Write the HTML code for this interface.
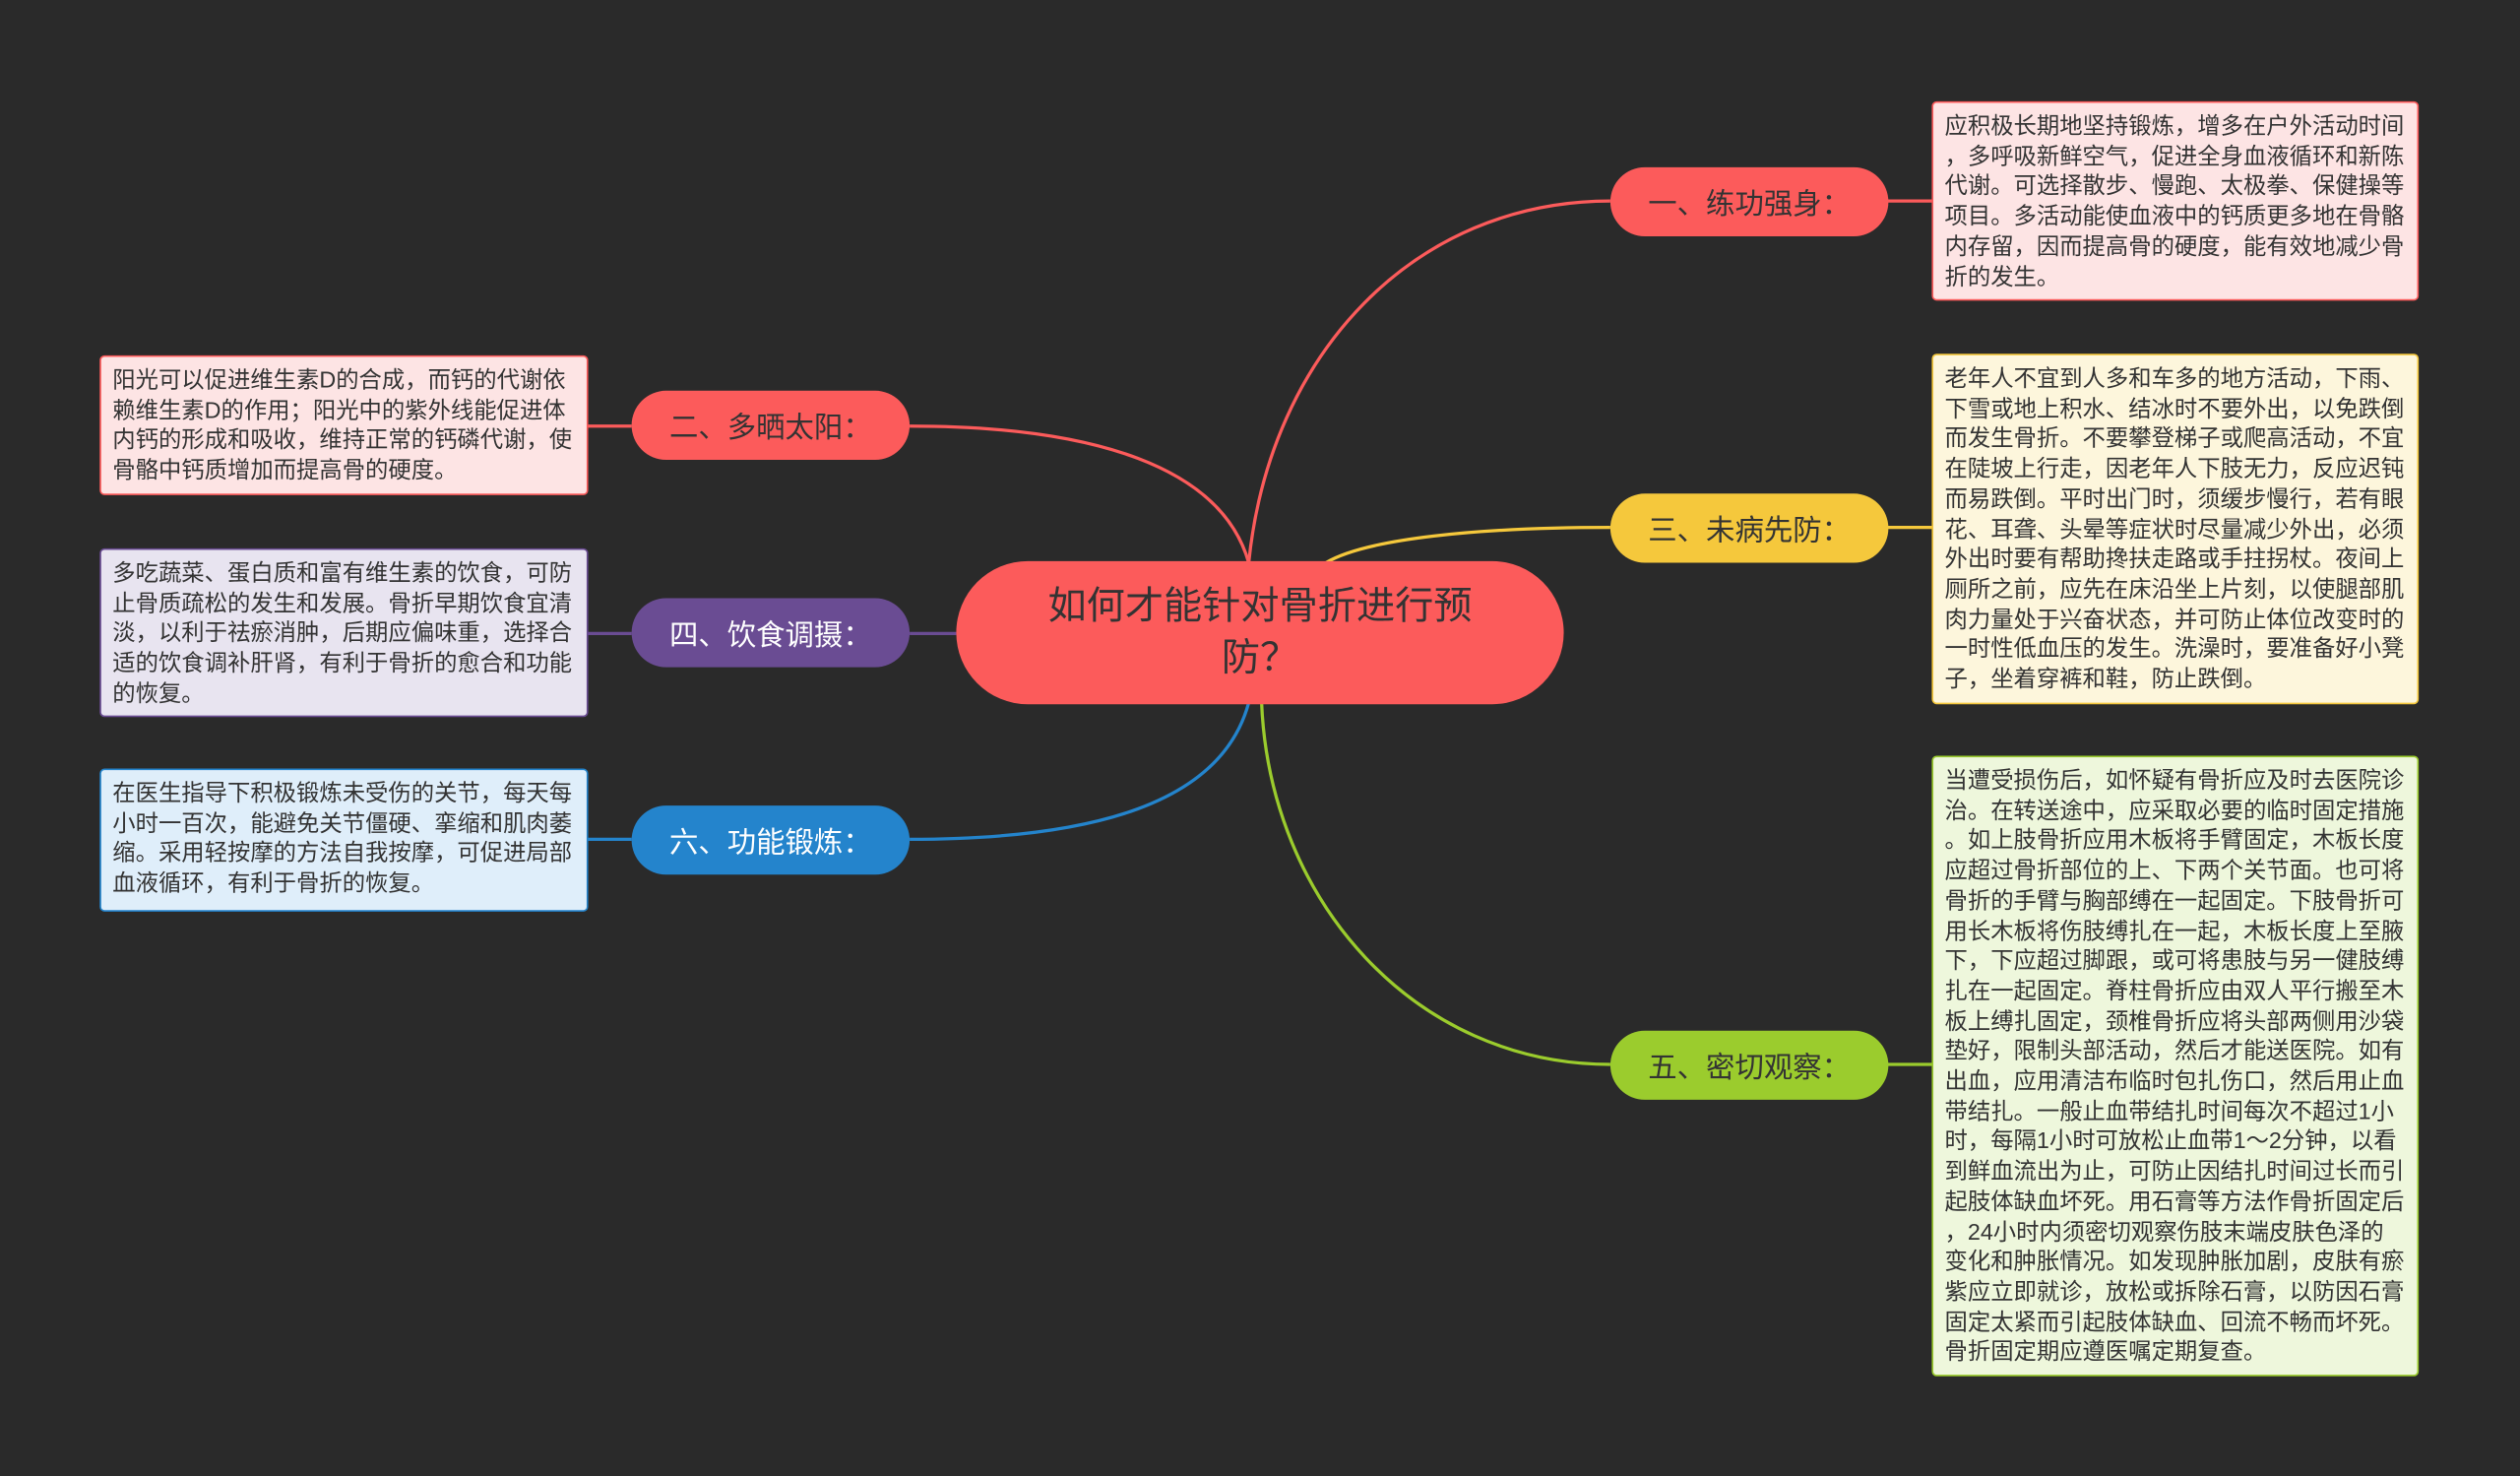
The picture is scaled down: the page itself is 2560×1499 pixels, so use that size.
<!DOCTYPE html>
<html><head><meta charset="utf-8"><style>
html,body{margin:0;padding:0;background:#2a2a2a;width:2560px;height:1499px;overflow:hidden}
#s{position:absolute;left:0;top:0;width:1568px;height:918px;transform:scale(1.63265,1.63290);transform-origin:0 0;font-family:"Liberation Sans","Noto Sans CJK SC",sans-serif}
.n{position:absolute;border-radius:22px;font-size:18px;display:flex;align-items:center;justify-content:center;height:43px;width:173px;box-sizing:border-box}
.b{position:absolute;box-sizing:border-box;border:1px solid;border-radius:3px;padding:6px 0 0 7px;font-size:14.3px;line-height:18.7px;color:#333;white-space:nowrap}
</style></head><body><div id="s">
<svg width="1568" height="918" style="position:absolute;left:0;top:0" fill="none" stroke-width="2">
<path d="M777 350 C790 220 880 125 1002 125" stroke="#fc5b5b"/>
<path d="M825 350 C850 335 920 328 1002 328" stroke="#f5c83c"/>
<path d="M785 437 C790 560 880 662 1002 662" stroke="#9bcc2d"/>
<path d="M777 350 C760 290 680 265 566 265" stroke="#fc5b5b"/>
<path d="M595 394 L566 394" stroke="#6a4c93"/>
<path d="M777 437 C760 500 680 522 566 522" stroke="#2484cc"/>
<path d="M1174 125 H1202" stroke="#fc5b5b"/>
<path d="M1174 328 H1202" stroke="#f5c83c"/>
<path d="M1174 662 H1202" stroke="#9bcc2d"/>
<path d="M366 265 H393" stroke="#fc5b5b"/>
<path d="M366 394 H393" stroke="#6a4c93"/>
<path d="M366 522 H393" stroke="#2484cc"/>
</svg>
<div style="position:absolute;left:595px;top:349px;width:378px;height:89px;border-radius:45px;background:#fc5b5b;color:#333;font-size:24px;line-height:32px;text-align:center;display:flex;align-items:center;justify-content:center">如何才能针对骨折进行预<br>防？</div>
<div class="n" style="left:1002px;top:104px;background:#fc5b5b;color:#333">一、练功强身：</div>
<div class="n" style="left:1002px;top:307px;background:#f5c83c;color:#333">三、未病先防：</div>
<div class="n" style="left:1002px;top:641px;background:#9bcc2d;color:#333">五、密切观察：</div>
<div class="n" style="left:393px;top:243px;background:#fc5b5b;color:#333">二、多晒太阳：</div>
<div class="n" style="left:393px;top:372px;background:#6a4c93;color:#fff">四、饮食调摄：</div>
<div class="n" style="left:393px;top:501px;background:#2484cc;color:#fff">六、功能锻炼：</div>
<div class="b" style="left:1202px;top:63px;width:303px;height:124px;background:#fde4e4;border-color:#fc5b5b">应积极长期地坚持锻炼，增多在户外活动时间<br>，多呼吸新鲜空气，促进全身血液循环和新陈<br>代谢。可选择散步、慢跑、太极拳、保健操等<br>项目。多活动能使血液中的钙质更多地在骨骼<br>内存留，因而提高骨的硬度，能有效地减少骨<br>折的发生。</div>
<div class="b" style="left:1202px;top:220px;width:303px;height:218px;background:#fdf6dc;border-color:#f5c83c">老年人不宜到人多和车多的地方活动，下雨、<br>下雪或地上积水、结冰时不要外出，以免跌倒<br>而发生骨折。不要攀登梯子或爬高活动，不宜<br>在陡坡上行走，因老年人下肢无力，反应迟钝<br>而易跌倒。平时出门时，须缓步慢行，若有眼<br>花、耳聋、头晕等症状时尽量减少外出，必须<br>外出时要有帮助搀扶走路或手拄拐杖。夜间上<br>厕所之前，应先在床沿坐上片刻，以使腿部肌<br>肉力量处于兴奋状态，并可防止体位改变时的<br>一时性低血压的发生。洗澡时，要准备好小凳<br>子，坐着穿裤和鞋，防止跌倒。</div>
<div class="b" style="left:1202px;top:470px;width:303px;height:386px;background:#eef7dc;border-color:#9bcc2d">当遭受损伤后，如怀疑有骨折应及时去医院诊<br>治。在转送途中，应采取必要的临时固定措施<br>。如上肢骨折应用木板将手臂固定，木板长度<br>应超过骨折部位的上、下两个关节面。也可将<br>骨折的手臂与胸部缚在一起固定。下肢骨折可<br>用长木板将伤肢缚扎在一起，木板长度上至腋<br>下，下应超过脚跟，或可将患肢与另一健肢缚<br>扎在一起固定。脊柱骨折应由双人平行搬至木<br>板上缚扎固定，颈椎骨折应将头部两侧用沙袋<br>垫好，限制头部活动，然后才能送医院。如有<br>出血，应用清洁布临时包扎伤口，然后用止血<br>带结扎。一般止血带结扎时间每次不超过1小<br>时，每隔1小时可放松止血带1～2分钟，以看<br>到鲜血流出为止，可防止因结扎时间过长而引<br>起肢体缺血坏死。用石膏等方法作骨折固定后<br>，24小时内须密切观察伤肢末端皮肤色泽的<br>变化和肿胀情况。如发现肿胀加剧，皮肤有瘀<br>紫应立即就诊，放松或拆除石膏，以防因石膏<br>固定太紧而引起肢体缺血、回流不畅而坏死。<br>骨折固定期应遵医嘱定期复查。</div>
<div class="b" style="left:62px;top:221px;width:304px;height:87px;background:#fde4e4;border-color:#fc5b5b">阳光可以促进维生素D的合成，而钙的代谢依<br>赖维生素D的作用；阳光中的紫外线能促进体<br>内钙的形成和吸收，维持正常的钙磷代谢，使<br>骨骼中钙质增加而提高骨的硬度。</div>
<div class="b" style="left:62px;top:341px;width:304px;height:105px;background:#e8e4f0;border-color:#6a4c93">多吃蔬菜、蛋白质和富有维生素的饮食，可防<br>止骨质疏松的发生和发展。骨折早期饮食宜清<br>淡，以利于祛瘀消肿，后期应偏味重，选择合<br>适的饮食调补肝肾，有利于骨折的愈合和功能<br>的恢复。</div>
<div class="b" style="left:62px;top:478px;width:304px;height:89px;background:#dfeefa;border-color:#2484cc">在医生指导下积极锻炼未受伤的关节，每天每<br>小时一百次，能避免关节僵硬、挛缩和肌肉萎<br>缩。采用轻按摩的方法自我按摩，可促进局部<br>血液循环，有利于骨折的恢复。</div>
</div></body></html>
